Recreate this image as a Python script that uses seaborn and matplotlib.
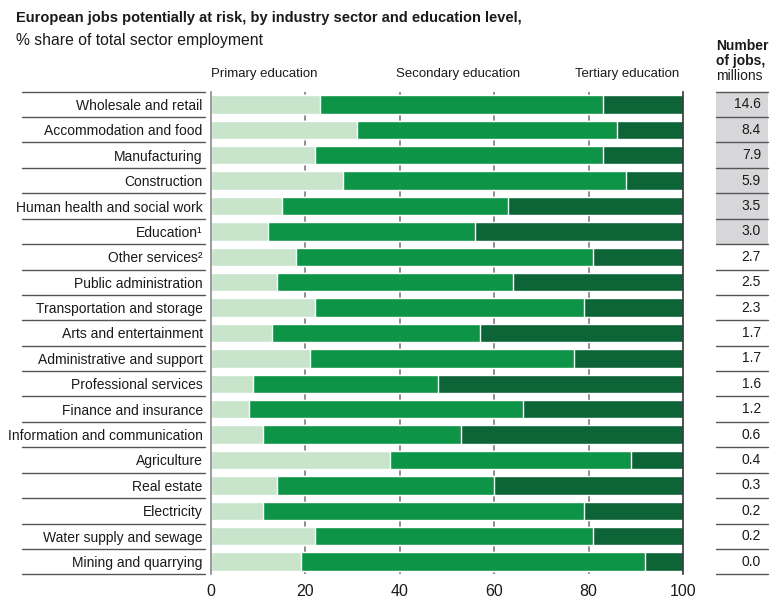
import numpy as np
import pandas as pd
import matplotlib
matplotlib.use("Agg")
import matplotlib.pyplot as plt
from matplotlib.patches import Rectangle
import seaborn as sns

# Data (share of sector employment, %)
sectors = [
    "Wholesale and retail", "Accommodation and food", "Manufacturing", "Construction",
    "Human health and social work", "Education\u00b9", "Other services\u00b2",
    "Public administration", "Transportation and storage", "Arts and entertainment",
    "Administrative and support", "Professional services", "Finance and insurance",
    "Information and communication", "Agriculture", "Real estate", "Electricity",
    "Water supply and sewage", "Mining and quarrying",
]
primary = [23, 31, 22, 28, 15, 12, 18, 14, 22, 13, 21, 9, 8, 11, 38, 14, 11, 22, 19]
secondary = [60, 55, 61, 60, 48, 44, 63, 50, 57, 44, 56, 39, 58, 42, 51, 46, 68, 59, 73]
tertiary = [17, 14, 17, 12, 37, 44, 19, 36, 21, 43, 23, 52, 34, 47, 11, 40, 21, 19, 8]
jobs = [14.6, 8.4, 7.9, 5.9, 3.5, 3.0, 2.7, 2.5, 2.3, 1.7, 1.7, 1.6, 1.2, 0.6, 0.4, 0.3, 0.2, 0.2, 0.0]
n_shaded = 6  # top rows with grey background in the jobs column

edu_labels = ["Primary education", "Secondary education", "Tertiary education"]
x_ticks = [0, 20, 40, 60, 80, 100]

title = "European jobs potentially at risk, by industry sector and education level,"
subtitle = "% share of total sector employment"

c_light = "#c8e4cb"
c_mid = "#0e9446"
c_dark = "#0c6437"
c_box = "#d7d7d9"
c_text = "#1a1a1a"

sns.set_theme(style="white")
plt.rcParams['font.family'] = ['Liberation Sans', 'DejaVu Sans']

df = pd.DataFrame({
    'sector': sectors,
    'primary': primary,
    'secondary': secondary,
    'tertiary': tertiary,
})
df['upto_secondary'] = df['primary'] + df['secondary']
df['total'] = df['upto_secondary'] + df['tertiary']

W, H = 770, 598
fig = plt.figure(figsize=(W / 100, H / 100), dpi=100)
ax_left, ax_right, ax_top, ax_bot = 211, 683, 91.7, 574.3
ax = fig.add_axes([ax_left / W, 1 - ax_bot / H, (ax_right - ax_left) / W, (ax_bot - ax_top) / H])

# stacked bars by overdrawing cumulative totals
for col, color in [('total', c_dark), ('upto_secondary', c_mid), ('primary', c_light)]:
    sns.barplot(data=df, x=col, y='sector', orient='h', color=color, saturation=1,
                width=0.72, errorbar=None, ax=ax, zorder=2)

ax.set_xlim(0, 100)
ax.set_ylim(len(sectors) - 0.5, -0.5)
for xv in x_ticks[1:-1]:
    ax.axvline(xv, color='#7a7a7a', lw=1.2, zorder=0)

for side in ['top', 'bottom']:
    ax.spines[side].set_visible(False)
ax.spines['left'].set_color('#8a8a8a')
ax.spines['right'].set_color('#333333')
ax.spines['left'].set_linewidth(1.2)
ax.spines['right'].set_linewidth(1.2)

ax.set_xticks(x_ticks)
ax.tick_params(axis='x', length=0, pad=7, labelsize=11.5, colors=c_text)
ax.tick_params(axis='y', length=0, pad=6, labelsize=10, colors=c_text)
ax.set_xlabel('')
ax.set_ylabel('')

trans = ax.get_yaxis_transform()
px = 1 / (ax_right - ax_left)  # one pixel in axes units

# row separators on the left
for b in np.arange(-0.5, len(sectors)):
    ax.plot([(22 - ax_left) * px, (205 - ax_left) * px], [b, b], transform=trans,
            clip_on=False, color='#555555', lw=1)

# jobs column
bx0, bx1 = (716 - ax_left) * px, (768 - ax_left) * px
for i, v in enumerate(jobs):
    if i < n_shaded:
        ax.add_patch(Rectangle((bx0, i - 0.5), bx1 - bx0, 1, transform=trans,
                               clip_on=False, facecolor=c_box, edgecolor='none'))
    ax.text((761 - ax_left) * px, i, f"{v:.1f}", transform=trans, ha='right',
            va='center', fontsize=10, color=c_text)
for b in np.arange(-0.5, len(sectors)):
    ax.plot([bx0, bx1], [b, b], transform=trans, clip_on=False, color='#555555', lw=1)

# education labels above bars
ty = 1 + (ax_top - 74) / (ax_bot - ax_top)
ax.text(0, ty, edu_labels[0], transform=ax.transAxes, ha='left', va='center', fontsize=9.5, color=c_text)
ax.text(52.4 / 100, ty, edu_labels[1], transform=ax.transAxes, ha='center', va='center', fontsize=9.5, color=c_text)
ax.text(99.2 / 100, ty, edu_labels[2], transform=ax.transAxes, ha='right', va='center', fontsize=9.5, color=c_text)

# header for jobs column
fig.text(716 / W, 1 - 46 / H, "Number", fontsize=10, fontweight='bold', va='center', color=c_text)
fig.text(716 / W, 1 - 61 / H, "of jobs,", fontsize=10, fontweight='bold', va='center', color=c_text)
fig.text(716 / W, 1 - 76 / H, "millions", fontsize=10, va='center', color=c_text)

# title
fig.text(16 / W, 1 - 18 / H, title, fontsize=10.5, fontweight='bold', va='center', color=c_text)
fig.text(16 / W, 1 - 40 / H, subtitle, fontsize=11.3, va='center', color=c_text)

fig.savefig("out.png", dpi=100, facecolor='white')
